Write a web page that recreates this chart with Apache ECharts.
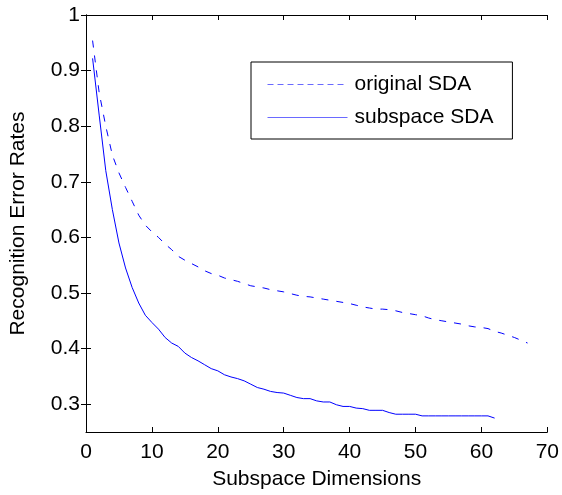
<!DOCTYPE html>
<html><head><meta charset="utf-8">
<script src="https://cdn.jsdelivr.net/npm/echarts@6/dist/echarts.min.js"></script>
<style>html,body{margin:0;padding:0;background:#fff}#c{width:562px;height:495px}</style>
</head><body><div id="c"></div>
<script>
const xTicks = [0,10,20,30,40,50,60,70];
const yTicks = [0.3,0.4,0.5,0.6,0.7,0.8,0.9,1];
const seriesNames = ['original SDA','subspace SDA'];
const originalX = [];
for (let i = 1; i <= 67; i++) originalX.push(i);
const originalSDA = [0.954,0.860,0.800,0.748,0.716,0.690,0.665,0.640,0.622,0.610,
0.600,0.588,0.578,0.566,0.559,0.553,0.547,0.540,0.535,0.532,
0.527,0.524,0.521,0.517,0.513,0.511,0.509,0.506,0.504,0.502,
0.499,0.496,0.494,0.493,0.491,0.489,0.487,0.485,0.483,0.481,
0.478,0.475,0.473,0.471,0.471,0.470,0.468,0.465,0.463,0.461,
0.459,0.455,0.452,0.450,0.448,0.446,0.444,0.441,0.439,0.438,
0.436,0.431,0.428,0.424,0.420,0.415,0.410];
const subspaceX = [];
for (let i = 1; i <= 62; i++) subspaceX.push(i);
const subspaceSDA = [0.922,0.820,0.720,0.650,0.590,0.545,0.510,0.482,0.460,0.447,
0.435,0.420,0.410,0.404,0.392,0.384,0.378,0.371,0.364,0.360,
0.353,0.349,0.346,0.342,0.336,0.330,0.327,0.323,0.321,0.320,
0.316,0.312,0.310,0.310,0.306,0.304,0.304,0.299,0.296,0.296,
0.293,0.292,0.289,0.289,0.289,0.285,0.282,0.282,0.282,0.282,
0.279,0.279,0.279,0.279,0.279,0.279,0.279,0.279,0.279,0.279,
0.279,0.275];

const font = 'Liberation Sans, Arial, sans-serif';
const fs = 21;
const chart = echarts.init(document.getElementById('c'), null, {renderer:'canvas'});
const axLine = {show:true, lineStyle:{color:'#000', width:1}};
const tick = {show:true, inside:true, length:5, lineStyle:{color:'#000'}};
chart.setOption({
  animation:false,
  backgroundColor:'#fff',
  grid:{left:86, right:14, top:15, bottom:59, containLabel:false},
  legend:{
    orient:'vertical', left:251, top:62,
    padding:[12,19,11,16], itemGap:12,
    itemWidth:80, itemHeight:21,
    borderColor:'#000', borderWidth:1, backgroundColor:'#fff',
    itemStyle:{opacity:0},
    textStyle:{fontFamily:font, fontSize:fs, color:'#000', padding:[0,0,0,2]},
    data:[
      {name:seriesNames[0], lineStyle:{width:1, color:'#6a6aff', type:[6,4]}},
      {name:seriesNames[1], lineStyle:{width:1, color:'#6a6aff'}}
    ]
  },
  xAxis:[{
    type:'value', min:0, max:70, interval:10, position:'bottom',
    axisLine:axLine, axisTick:tick, splitLine:{show:false},
    axisLabel:{fontFamily:font, fontSize:fs, color:'#000', margin:10},
    name:'Subspace Dimensions', nameLocation:'middle', nameGap:37,
    nameTextStyle:{fontFamily:font, fontSize:fs, color:'#000'}
  },{
    type:'value', min:0, max:70, interval:10, position:'top',
    axisLine:axLine, axisTick:tick, splitLine:{show:false}, axisLabel:{show:false}
  }],
  yAxis:[{
    type:'value', min:0.25, max:1, position:'left',
    axisLine:axLine, splitLine:{show:false},
    axisTick:Object.assign({customValues:yTicks}, tick),
    axisLabel:{fontFamily:font, fontSize:fs, color:'#000', margin:6, customValues:yTicks,
      formatter:v=>String(Math.round(v*10)/10)},
    name:'Recognition Error Rates', nameLocation:'middle', nameGap:57,
    nameTextStyle:{fontFamily:font, fontSize:fs, color:'#000'}
  },{
    type:'value', min:0.25, max:1, position:'right',
    axisLine:axLine, splitLine:{show:false},
    axisTick:Object.assign({customValues:yTicks}, tick),
    axisLabel:{show:false}
  }],
  series:[{
    name:seriesNames[0], type:'line', symbol:'none', xAxisIndex:0, yAxisIndex:0,
    lineStyle:{color:'#0000ff', width:1, type:[7,8]}, itemStyle:{color:'#0000ff'},
    data:originalX.map((x,i)=>[x, originalSDA[i]])
  },{
    name:seriesNames[1], type:'line', symbol:'none', xAxisIndex:0, yAxisIndex:0,
    lineStyle:{color:'#0000ff', width:1}, itemStyle:{color:'#0000ff'},
    data:subspaceX.map((x,i)=>[x, subspaceSDA[i]])
  }]
});
</script></body></html>
